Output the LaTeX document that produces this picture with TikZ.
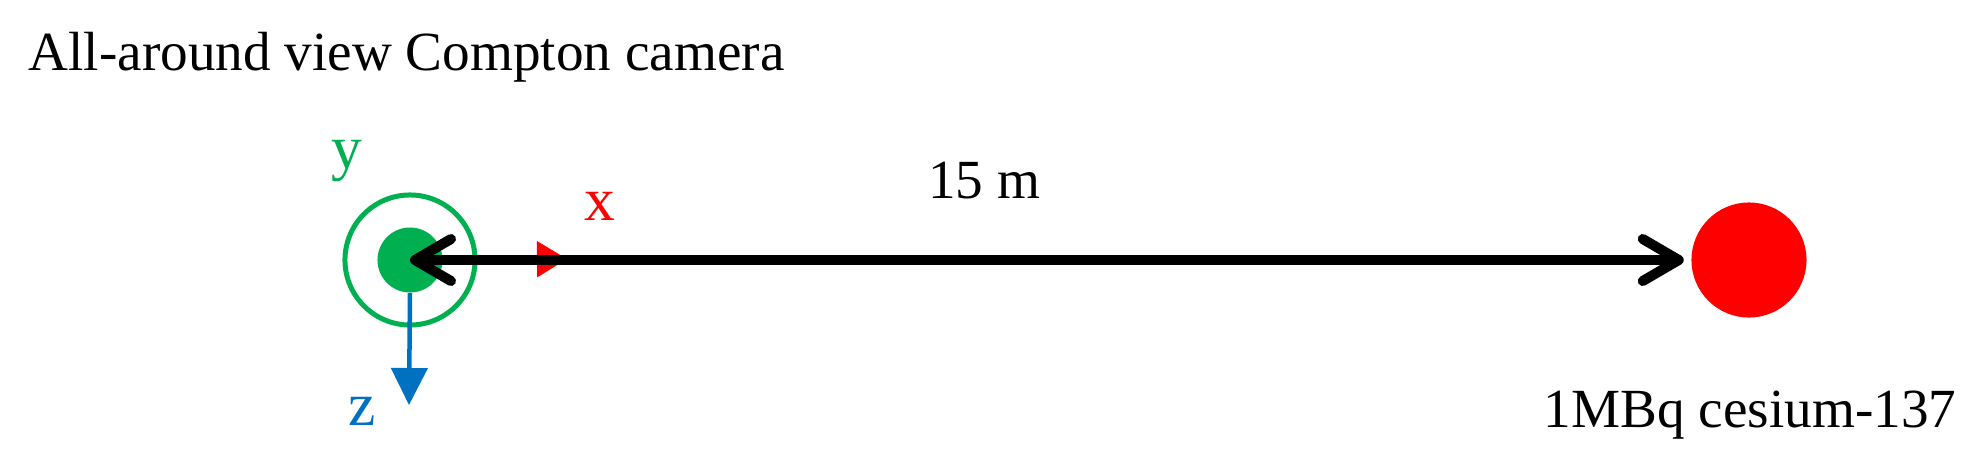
\documentclass[tikz,border=0pt]{standalone}
\usepackage{fontspec}
\setmainfont{Liberation Serif}
\usetikzlibrary{arrows.meta}
\definecolor{camgreen}{RGB}{0,176,80}
\definecolor{axblue}{RGB}{0,112,192}
\definecolor{srcred}{RGB}{255,0,0}

\begin{document}
\begin{tikzpicture}[x=0.01cm, y=-0.01cm,
	txt/.style={inner sep=0pt, anchor=base, font=\fontsize{15.7}{19}\selectfont},
	axtxt/.style={inner sep=0pt, anchor=base, font=\fontsize{17.5}{21}\selectfont},
	dist/.style={line width=1mm, {Straight Barb[length=3.6mm, width=4.2mm, round]}-{Straight Barb[length=3.6mm, width=4.2mm, round]}}]
			%%%%% START %%%%%
			\useasboundingbox (0, 0) rectangle (1968, 460);
			
			\node[txt, anchor=base west] (title) at (28, 70) {All-around view Compton camera};
			
			% camera
			\node[circle, draw=camgreen, line width=0.5mm, inner sep=0pt, minimum size=1.3cm] (ring) at (410, 260) {};
			\node[circle, fill=camgreen, inner sep=0pt, minimum size=0.65cm] (dot) at (410, 260) {};
			
			% axes
			\coordinate (xtip) at (567, 259);
			\coordinate (ztip) at (409, 405);
			\draw[line width=0.2mm, color=srcred, -{Triangle[length=3mm, width=3.6mm]}] (dot.center) -- (xtip);
			\draw[line width=0.45mm, color=axblue, -{Triangle[length=3.7mm, width=3.6mm]}] (dot.south) -- (ztip);
			\node[axtxt, color=camgreen] (ylab) at (347, 168) {y};
			\node[axtxt, color=srcred] (xlab) at (600, 220) {x};
			\node[axtxt, color=axblue] (zlab) at (362, 425) {z};
			
			% source
			\node[circle, fill=srcred, inner sep=0pt, minimum size=1.15cm] (src) at (1749, 260) {};
			\node[txt] (srclab) at (1750, 427) {1MBq cesium-137};
			
			% distance
			\draw[dist, shorten >=0.07cm] (dot.center) -- (src);
			\node[txt] (distlab) at (984, 198) {15 m};
			
			%%%%% END %%%%%
\end{tikzpicture}
\end{document}
